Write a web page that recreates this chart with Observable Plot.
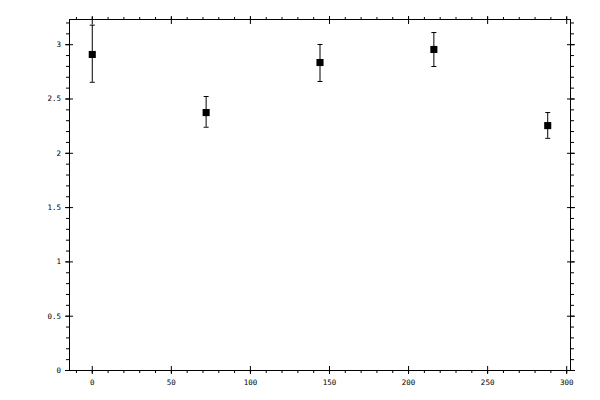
<!DOCTYPE html>
<html><head><meta charset="utf-8">
<script src="https://cdn.jsdelivr.net/npm/d3@7"></script>
<script src="https://cdn.jsdelivr.net/npm/@observablehq/plot@0.6"></script>
<style>body{margin:0;background:#fff}#chart svg{display:block}</style>
</head><body><div id="chart"></div>
<script>
// data
const xValues = [0, 72, 144, 216, 288];
const yValues = [2.910, 2.375, 2.836, 2.956, 2.255];
const yLower  = [2.654, 2.240, 2.661, 2.799, 2.138];
const yUpper  = [3.180, 2.523, 3.002, 3.112, 2.375];

// tick positions and labels
const xMajorTicks = [0, 50, 100, 150, 200, 250, 300];
const xMinorTicks = d3.range(-10, 301, 10);
const yMajorTicks = [0, 0.5, 1, 1.5, 2, 2.5, 3];
const yMinorTicks = d3.range(0, 33).map(i => i / 10);

const data = xValues.map((x, i) => ({x, y: yValues[i], lo: yLower[i], hi: yUpper[i]}));

const capSymbol = {
  draw(context, size) {
    const w = Math.sqrt(size / Math.PI);
    context.moveTo(-w, 0);
    context.lineTo(w, 0);
  }
};
const blank = () => "";
const fmt = d => String(d);

const axesX = [];
for (const anchor of ["bottom", "top"]) {
  axesX.push(Plot.axisX(xMinorTicks, {anchor, tickSize: 3, tickFormat: blank, label: null}));
  axesX.push(Plot.axisX(xMajorTicks, {anchor, tickSize: 8, dy: anchor === "bottom" ? -4 : 4, tickFormat: blank, label: null}));
}
axesX.push(Plot.axisX(xMajorTicks, {anchor: "bottom", tickSize: 0, tickPadding: 9, tickFormat: fmt, label: null}));

const axesY = [];
for (const anchor of ["left", "right"]) {
  axesY.push(Plot.axisY(yMinorTicks, {anchor, tickSize: 3, tickFormat: blank, label: null}));
  axesY.push(Plot.axisY(yMajorTicks, {anchor, tickSize: 8, dx: anchor === "left" ? 4 : -4, tickFormat: blank, label: null}));
}
axesY.push(Plot.axisY(yMajorTicks, {anchor: "left", tickSize: 0, tickPadding: 8.5, tickFormat: fmt, label: null}));

const chart = Plot.plot({
  width: 600,
  height: 400,
  marginLeft: 69,
  marginRight: 30,
  marginTop: 19,
  marginBottom: 30,
  style: {fontFamily: "'DejaVu Sans Mono', monospace", fontSize: "7.5px", color: "#000", background: "#fff"},
  x: {domain: [-14.4, 302.4]},
  y: {domain: [0, 3.232]},
  marks: [
    Plot.frame({stroke: "#000"}),
    ...axesX,
    ...axesY,
    Plot.ruleX(data, {x: "x", y1: "lo", y2: "hi", stroke: "#000", strokeWidth: 1}),
    Plot.dot(data, {x: "x", y: "hi", symbol: capSymbol, r: 2.5, stroke: "#000", fill: "none", strokeWidth: 1}),
    Plot.dot(data, {x: "x", y: "lo", symbol: capSymbol, r: 2.5, stroke: "#000", fill: "none", strokeWidth: 1}),
    Plot.dot(data, {x: "x", y: "y", symbol: "square", r: 4, fill: "#000", stroke: "none"})
  ]
});
document.getElementById("chart").appendChild(chart);
</script>
</body></html>
